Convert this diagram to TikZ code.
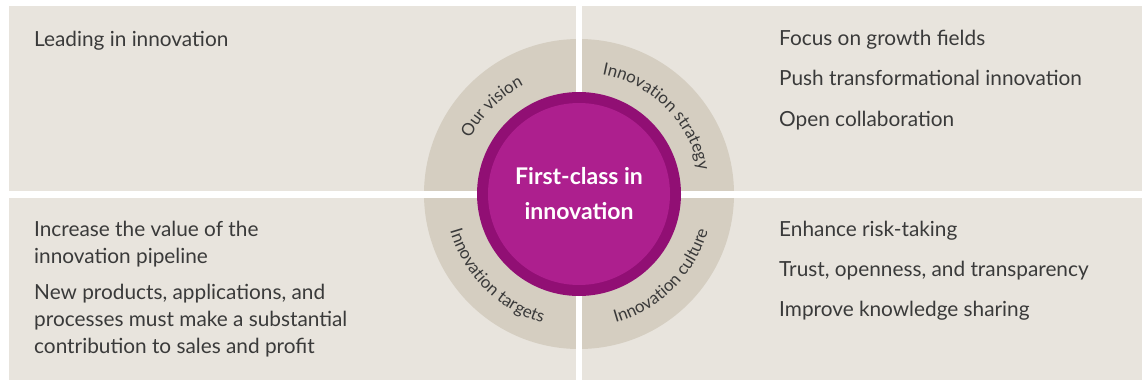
\documentclass[tikz,border=0pt]{standalone}
\usepackage{fontspec}
\setmainfont{Lato}
\usetikzlibrary{decorations.text,positioning}
\definecolor{panelgrey}{HTML}{E8E4DD}
\definecolor{ringgrey}{HTML}{D5CEC1}
\definecolor{plum}{HTML}{910F74}
\definecolor{orchid}{HTML}{AD1F8E}
\definecolor{inktext}{HTML}{3A3A3A}
\newcommand{\ringfont}{\fontsize{17}{17}\selectfont}
\begin{document}
\begin{tikzpicture}[x=1pt,y=1pt]

			\tikzstyle{panel}=[fill=panelgrey]
			\tikzstyle{item}=[anchor=base west,inner sep=0pt,
				text=inktext,font=\fontsize{20.8}{27}\selectfont,
				align=left]
			\tikzstyle{ringlabel}=[decorate,
				decoration={text along path,text align=center,
				text color=inktext}]

			\useasboundingbox (0,0) rectangle (1142,381);
			\coordinate (c) at (579,187);

			% the four fields
			\fill[panel] (9,190)   rectangle (576,375);
			\fill[panel] (582,190) rectangle (1142,375);
			\fill[panel] (9,1)     rectangle (576,183);
			\fill[panel] (582,1)   rectangle (1142,183);

			% ring, cut by the white cross
			\fill[ringgrey] (c) circle (155);
			\fill[white] (576,0) rectangle (582,381);
			\fill[white] (0,183) rectangle (1142,190);

			% core
			\fill[plum]   (c) circle (102);
			\fill[orchid] (c) circle (91);
			\node[text=white,font=\bfseries\fontsize{23}{35}\selectfont,
				align=center]	(core)	at (c)	{First-class in\\innovation};

			% ring labels
			\path[ringlabel,decoration={text={|\ringfont|Our vision}}]
				([shift={(c)}]185:122) arc[start angle=185,end angle=85,radius=122];
			\path[ringlabel,decoration={text={|\ringfont|Innovation strategy}}]
				([shift={(c)}]105:122) arc[start angle=105,end angle=-15,radius=122];
			\path[ringlabel,decoration={text={|\ringfont|Innovation targets}}]
				([shift={(c)}]160:134) arc[start angle=160,end angle=290,radius=134];
			\path[ringlabel,decoration={text={|\ringfont|Innovation culture}}]
				([shift={(c)}]250:134) arc[start angle=250,end angle=380,radius=134];

			% vision
			\node[item]	(11)	at (34,334.3)	{Leading in innovation};

			% strategy
			\node[item]	(21)	at (779,335)	{Focus on growth fields};
			\node[item]	(22)	at (779,295)	{Push transformational innovation};
			\node[item]	(23)	at (779,255)	{Open collaboration};

			% targets (base sits on the last line)
			\node[item]	(31)	at (34,117.5)	{Increase the value of the\\innovation pipeline};
			\node[item]	(32)	at (34,28)	{New products, applications, and\\processes must make a substantial\\contribution to sales and profit};

			% culture
			\node[item]	(41)	at (779,144.3)	{Enhance risk-taking};
			\node[item]	(42)	at (779,104.3)	{Trust, openness, and transparency};
			\node[item]	(43)	at (779,65)	{Improve knowledge sharing};

		\end{tikzpicture}
\end{document}
